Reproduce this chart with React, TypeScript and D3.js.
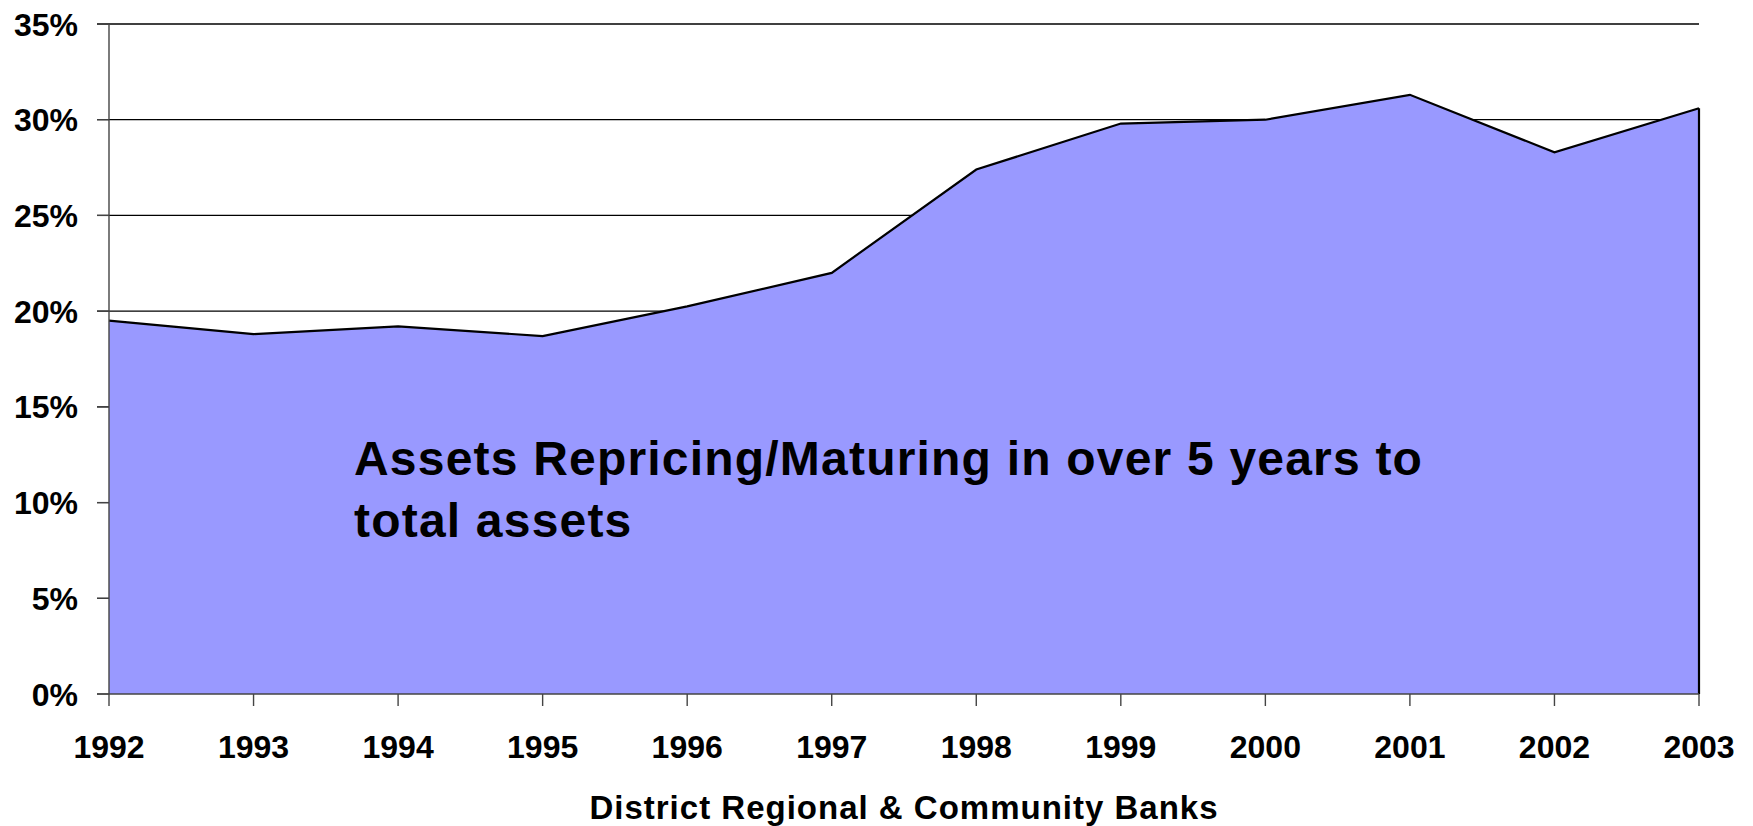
import React from "react";
import * as d3 from "d3";

const years = ["1992","1993","1994","1995","1996","1997","1998","1999","2000","2001","2002","2003"];
const values = [19.5, 18.8, 19.2, 18.7, 20.25, 22.0, 27.4, 29.8, 30.0, 31.3, 28.3, 30.6];
const yTicks = [0, 5, 10, 15, 20, 25, 30, 35];
const annotationLines = ["Assets Repricing/Maturing in over 5 years to", "total assets"];
const xTitle = "District Regional & Community Banks";

const W = 1753, H = 826;
const left = 109, right = 1699, top = 24, bottom = 694;
const FONT = "'Liberation Sans', Arial, Helvetica, sans-serif";

export default function App() {
  const x = d3.scalePoint<string>().domain(years).range([left, right]);
  const y = d3.scaleLinear().domain([0, 35]).range([bottom, top]);
  const data = years.map((yr, i) => ({ yr, v: values[i] }));
  const area = d3.area<{ yr: string; v: number }>()
    .x(d => x(d.yr)!)
    .y0(y(0))
    .y1(d => y(d.v));
  const line = d3.line<{ yr: string; v: number }>()
    .x(d => x(d.yr)!)
    .y(d => y(d.v));
  const last = data[data.length - 1];

  return (
    <svg width={W} height={H} style={{ position: "absolute", left: 0, top: 0, background: "#fff" }}>
      {yTicks.filter(t => t > 0).map(t => (
        <line key={t} x1={left - 12} x2={right} y1={y(t)} y2={y(t)} stroke="#000" strokeWidth={1.3} />
      ))}
      <path d={area(data)!} fill="#9999FF" stroke="none" />
      <path d={line(data)!} fill="none" stroke="#000" strokeWidth={2.2} />
      <line x1={x(last.yr)!} x2={x(last.yr)!} y1={y(last.v)} y2={y(0)} stroke="#000" strokeWidth={2.2} />
      <line x1={left} x2={left} y1={top} y2={bottom} stroke="#444" strokeWidth={1.4} />
      <line x1={left - 12} x2={right} y1={bottom} y2={bottom} stroke="#444" strokeWidth={1.6} />
      {yTicks.map(t => (
        <line key={"yt" + t} x1={left - 12} x2={left} y1={y(t)} y2={y(t)} stroke="#444" strokeWidth={1.3} />
      ))}
      {years.map(yr => (
        <line key={"xt" + yr} x1={x(yr)!} x2={x(yr)!} y1={bottom} y2={bottom + 12} stroke="#444" strokeWidth={1.4} />
      ))}
      {yTicks.map(t => (
        <text key={"yl" + t} x={78} y={y(t)} dy="0.36em" textAnchor="end"
          fontFamily={FONT} fontWeight="bold" fontSize={32} fill="#000">{t + "%"}</text>
      ))}
      {years.map(yr => (
        <text key={"xl" + yr} x={x(yr)!} y={758} textAnchor="middle"
          fontFamily={FONT} fontWeight="bold" fontSize={32} fill="#000">{yr}</text>
      ))}
      <text x={(left + right) / 2} y={819} textAnchor="middle" fontFamily={FONT} fontWeight="bold"
        fontSize={33} letterSpacing={1.0} fill="#000">{xTitle}</text>
      {annotationLines.map((l, i) => (
        <text key={"an" + i} x={354} y={475 + i * 62} fontFamily={FONT} fontWeight="bold"
          fontSize={48} letterSpacing={1.2} fill="#000">{l}</text>
      ))}
    </svg>
  );
}
